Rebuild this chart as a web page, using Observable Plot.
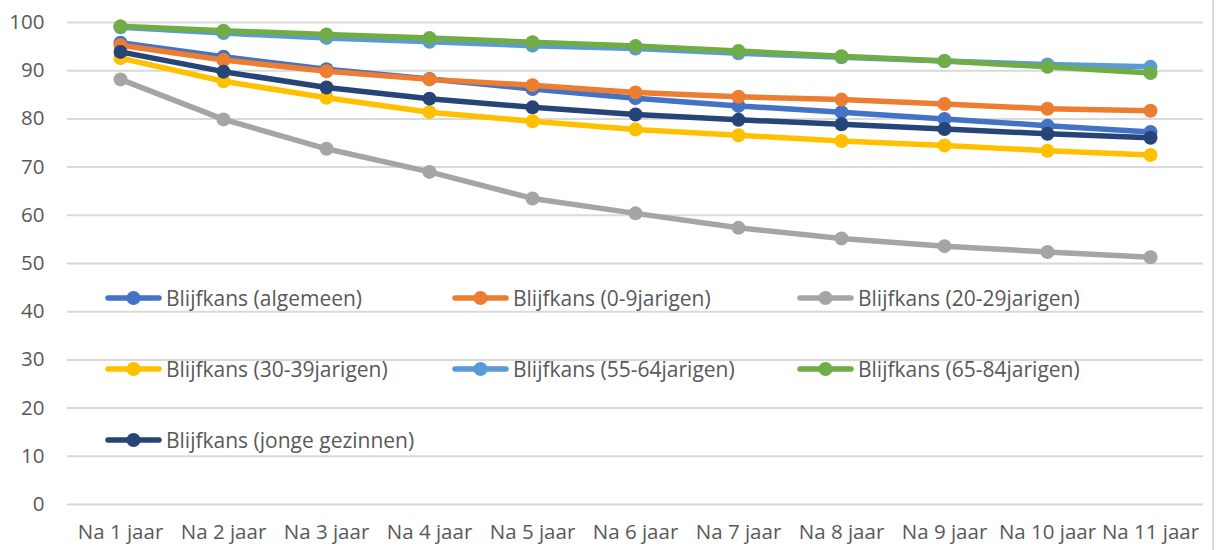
<!DOCTYPE html>
<html>
<head>
<meta charset="utf-8">
<script src="https://cdn.jsdelivr.net/npm/d3@7"></script>
<script src="https://cdn.jsdelivr.net/npm/@observablehq/plot@0.6"></script>
<style>
  html, body { margin: 0; padding: 0; background: #fff; }
  body { width: 1220px; height: 550px; overflow: hidden; position: relative; font-family: "Open Sans", sans-serif; }
  #chart { position: absolute; left: 0; top: 0; }
  #border { position: absolute; left: 1212px; top: 0; width: 2px; height: 550px; background: #d9d9d9; }
  .leg { position: absolute; display: flex; align-items: center; font-size: 21px; color: #595959; white-space: nowrap; }
  .leg svg { margin-right: 4px; }
</style>
</head>
<body>
<div id="chart"></div>
<div id="border"></div>
<div id="legend"></div>
<script>
const categories = ["Na 1 jaar","Na 2 jaar","Na 3 jaar","Na 4 jaar","Na 5 jaar","Na 6 jaar","Na 7 jaar","Na 8 jaar","Na 9 jaar","Na 10 jaar","Na 11 jaar"];
const seriesNames = ["Blijfkans (algemeen)","Blijfkans (0-9jarigen)","Blijfkans (20-29jarigen)","Blijfkans (30-39jarigen)","Blijfkans (55-64jarigen)","Blijfkans (65-84jarigen)","Blijfkans (jonge gezinnen)"];
const algemeen = [95.8, 92.9, 90.3, 88.3, 86.2, 84.3, 82.7, 81.4, 80.0, 78.6, 77.3];
const jarigen0_9 = [95.3, 92.2, 89.9, 88.2, 87.0, 85.5, 84.6, 84.0, 83.1, 82.1, 81.7];
const jarigen20_29 = [88.2, 79.9, 73.8, 69.0, 63.5, 60.4, 57.4, 55.2, 53.6, 52.4, 51.3];
const jarigen30_39 = [92.6, 87.8, 84.4, 81.4, 79.5, 77.8, 76.6, 75.4, 74.5, 73.4, 72.5];
const jarigen55_64 = [99.0, 97.8, 96.8, 96.0, 95.2, 94.6, 93.6, 92.8, 92.0, 91.3, 90.8];
const jarigen65_84 = [99.2, 98.3, 97.5, 96.8, 95.9, 95.1, 94.1, 93.0, 92.0, 90.8, 89.5];
const jongeGezinnen = [93.9, 89.8, 86.5, 84.2, 82.4, 80.9, 79.8, 78.9, 77.9, 76.9, 76.1];
const colors = ["#4472C4","#ED7D31","#A5A5A5","#FFC000","#5B9BD5","#70AD47","#264478"];
const yTicks = [0,10,20,30,40,50,60,70,80,90,100];

const seriesValues = [algemeen, jarigen0_9, jarigen20_29, jarigen30_39, jarigen55_64, jarigen65_84, jongeGezinnen];
const data = [];
seriesValues.forEach((vals, si) => vals.forEach((v, i) => data.push({series: seriesNames[si], cat: categories[i], value: v})));

const marks = [
  Plot.ruleY(yTicks, {stroke: "#d9d9d9", strokeWidth: 2})
];
seriesNames.forEach(name => {
  const d = data.filter(r => r.series === name);
  marks.push(Plot.line(d, {x: "cat", y: "value", stroke: "series", strokeWidth: 5.5, strokeLinejoin: "round", strokeLinecap: "round"}));
  marks.push(Plot.dot(d, {x: "cat", y: "value", fill: "series", r: 7}));
});
marks.push(Plot.axisY({ticks: yTicks, tickSize: 0, tickPadding: 23, label: null}));
marks.push(Plot.axisX({tickSize: 0, tickPadding: 20, label: null}));

const chart = Plot.plot({
  width: 1220,
  height: 550,
  marginLeft: 67,
  marginRight: 17,
  marginTop: 22,
  marginBottom: 46,
  style: {fontFamily: "'Open Sans', sans-serif", fontSize: "20.5px", color: "#595959", background: "#fff"},
  x: {type: "point", domain: categories, padding: 0.5},
  y: {domain: [0, 100]},
  color: {domain: seriesNames, range: colors},
  marks
});
document.getElementById("chart").appendChild(chart);

// legend (HTML)
const legPos = [[105,298],[452,298],[797,298],[105,369],[452,369],[797,369],[105,440]];
const leg = document.getElementById("legend");
seriesNames.forEach((name, i) => {
  const div = document.createElement("div");
  div.className = "leg";
  div.style.left = legPos[i][0] + "px";
  div.style.top = (legPos[i][1] - 15) + "px";
  div.style.height = "30px";
  div.innerHTML = `<svg width="57" height="16"><line x1="3" y1="8" x2="54" y2="8" stroke="${colors[i]}" stroke-width="5.5" stroke-linecap="round"/><circle cx="28.5" cy="8" r="7" fill="${colors[i]}"/></svg><span>${name}</span>`;
  leg.appendChild(div);
});
</script>
</body>
</html>
